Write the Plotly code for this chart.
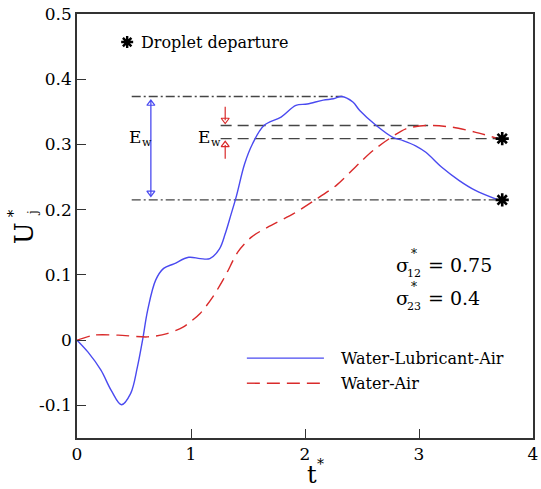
import plotly.graph_objects as go

# Jet-tip velocity histories (t*, U_j*)
t_wla = [0.0, 0.095, 0.21, 0.30, 0.39, 0.47, 0.53, 0.575, 0.62, 0.69, 0.76, 0.85, 0.98,
         1.08, 1.165, 1.25, 1.30, 1.35, 1.40, 1.47, 1.54, 1.64, 1.79, 1.92, 2.02, 2.16, 2.25,
         2.32, 2.42, 2.48, 2.625, 2.77, 2.86, 2.97, 3.06, 3.20, 3.35, 3.49, 3.695]
u_wla = [0.0, -0.018, -0.046, -0.077, -0.099, -0.082, -0.041, 0.0, 0.046, 0.092, 0.110, 0.117, 0.127,
         0.125, 0.125, 0.140, 0.163, 0.192, 0.222, 0.270, 0.301, 0.329, 0.342, 0.360, 0.362, 0.368, 0.370,
         0.3735, 0.365, 0.352, 0.329, 0.311, 0.306, 0.298, 0.288, 0.265, 0.245, 0.230, 0.215]

t_wa = [0.0, 0.15, 0.36, 0.62, 0.79, 0.93, 1.08, 1.19, 1.28, 1.32, 1.41, 1.53, 1.67, 1.90,
        2.08, 2.28, 2.48, 2.60, 2.74, 2.885, 3.06, 3.29, 3.49, 3.695]
u_wa = [0.0, 0.0077, 0.0077, 0.005, 0.010, 0.020, 0.041, 0.066, 0.092, 0.105, 0.135, 0.158, 0.173, 0.194,
        0.214, 0.238, 0.272, 0.291, 0.309, 0.324, 0.329, 0.3265, 0.319, 0.309]

# Droplet departure points
dep_t = [3.73, 3.73]
dep_u = [0.309, 0.215]

# Reference levels: (max, departure) for each case
lvl_wla = [0.3735, 0.215]
lvl_wa = [0.329, 0.309]

x_ticks = [0, 1, 2, 3, 4]
y_ticks = [-0.1, 0, 0.1, 0.2, 0.3, 0.4, 0.5]
y_ticklabels = ["-0.1", "0", "0.1", "0.2", "0.3", "0.4", "0.5"]

FONT = "DejaVu Serif"
BLUE = "#4a4af0"
RED = "#d92a2a"
GREY = "#454545"

fig = go.Figure()

# Ew reference lines
fig.add_trace(go.Scatter(x=[0.48, 2.33], y=[lvl_wla[0]] * 2, mode="lines",
                         line=dict(color=GREY, width=1.4, dash="9px,3px,2px,3px"), hoverinfo="skip"))
fig.add_trace(go.Scatter(x=[0.48, 3.69], y=[lvl_wla[1]] * 2, mode="lines",
                         line=dict(color=GREY, width=1.4, dash="9px,3px,2px,3px"), hoverinfo="skip"))
fig.add_trace(go.Scatter(x=[1.26, 3.08], y=[lvl_wa[0]] * 2, mode="lines",
                         line=dict(color=GREY, width=1.4, dash="11px,6px"), hoverinfo="skip"))
fig.add_trace(go.Scatter(x=[1.26, 3.69], y=[lvl_wa[1]] * 2, mode="lines",
                         line=dict(color=GREY, width=1.4, dash="11px,6px"), hoverinfo="skip"))

# Curves
fig.add_trace(go.Scatter(x=t_wla, y=u_wla, mode="lines", name="Water-Lubricant-Air",
                         line=dict(color=BLUE, width=1.4, shape="spline", smoothing=1.0)))
fig.add_trace(go.Scatter(x=t_wa, y=u_wa, mode="lines", name="Water-Air",
                         line=dict(color=RED, width=1.4, dash="13px,7px", shape="spline", smoothing=0.8)))

# Departure markers
fig.add_trace(go.Scatter(x=dep_t, y=dep_u, mode="markers",
                         marker=dict(symbol="asterisk-open", size=11, color="black",
                                     line=dict(color="black", width=2.6)), hoverinfo="skip"))

# Ew arrows (blue: Water-Lubricant-Air, red: Water-Air)
px_u = 1.0 / 653.3
a_t = 0.648
fig.add_trace(go.Scatter(x=[a_t, a_t], y=[lvl_wla[0] - 4 * px_u, lvl_wla[1] + 4 * px_u], mode="lines",
                         line=dict(color=BLUE, width=1.3), hoverinfo="skip"))
fig.add_trace(go.Scatter(x=[a_t, a_t], y=[lvl_wla[0] - 7 * px_u, lvl_wla[1] + 7 * px_u], mode="markers",
                         marker=dict(symbol=["triangle-up-open", "triangle-down-open"], size=7,
                                     color=BLUE, line=dict(width=1.2)), hoverinfo="skip"))
r_t = 1.30
fig.add_trace(go.Scatter(x=[r_t, r_t, None, r_t, r_t],
                         y=[lvl_wa[0] + 0.029, lvl_wa[0] + 0.008, None, lvl_wa[1] - 0.031, lvl_wa[1] - 0.010],
                         mode="lines", line=dict(color=RED, width=1.2), hoverinfo="skip"))
fig.add_trace(go.Scatter(x=[r_t, r_t], y=[lvl_wa[0] + 0.0085, lvl_wa[1] - 0.0095], mode="markers",
                         marker=dict(symbol=["triangle-down-open", "triangle-up-open"], size=7,
                                     color=RED, line=dict(width=1.2)), hoverinfo="skip"))

# Departure note marker
fig.add_trace(go.Scatter(x=[0.44], y=[0.457], mode="markers",
                         marker=dict(symbol="asterisk-open", size=10, color="black",
                                     line=dict(color="black", width=2.4)), hoverinfo="skip"))

# Legend drawn by hand so the sample lines are long
leg = [(-0.0276, "Water-Lubricant-Air", BLUE, "solid"), (-0.066, "Water-Air", RED, "13px,7px")]
for yv, name, col, dash in leg:
    fig.add_trace(go.Scatter(x=[1.49, 2.166], y=[yv, yv], mode="lines",
                             line=dict(color=col, width=1.4, dash=dash), hoverinfo="skip"))


def txt(x, y, s, size, xanchor="left", yanchor="middle", xref="x", yref="y", angle=0, xs=0, ys=0):
    fig.add_annotation(x=x, y=y, xref=xref, yref=yref, text=s, showarrow=False, xanchor=xanchor,
                       yanchor=yanchor, textangle=angle, xshift=xs, yshift=ys,
                       font=dict(family=FONT, size=size, color="black"))


def pxp(px, py):
    # pixel position -> paper coordinates
    return (px - 77.3) / 461.2, (438.3 - py) / 424.3


# E_w labels
for xe in (0.44, 1.045):
    txt(xe, 0.311, "E", 17)
    txt(xe, 0.311, "w", 11, xs=13, ys=-5)

txt(0.54, 0.457, "Droplet departure", 16)

# Surface-tension ratios
for yv, sub, val in [(0.115, "12", "= 0.75"), (0.064, "23", "= 0.4")]:
    txt(2.78, yv, "σ", 19)
    txt(2.78, yv, sub, 11, xs=11, ys=-8)
    txt(2.78, yv, "*", 12, xs=15, ys=11)
    txt(3.06, yv, val, 19)

for yv, name, col, dash in leg:
    txt(2.296, yv, name, 16)

# Axis titles
ux, uy = pxp(24, 233)
txt(ux, uy, "U", 26, xanchor="center", xref="paper", yref="paper", angle=-90)
jx, jy = pxp(33, 213)
txt(jx, jy, "j", 12, xanchor="center", xref="paper", yref="paper", angle=-90)
sx, sy = pxp(12, 213)
txt(sx, sy, "*", 15, xanchor="center", xref="paper", yref="paper", angle=-90)
tx, ty = pxp(315, 475)
txt(tx, ty, "t", 24, xanchor="center", xref="paper", yref="paper")
sx, sy = pxp(324, 464)
txt(sx, sy, "*", 14, xanchor="center", xref="paper", yref="paper")

fig.update_layout(
    width=541, height=489,
    margin=dict(l=77, r=3, t=14, b=51),
    paper_bgcolor="white", plot_bgcolor="white",
    showlegend=False,
)
fig.update_xaxes(range=[0, 4], tickvals=x_ticks, ticks="inside", ticklen=9, tickwidth=1.3,
                 tickcolor="#333", showline=True, linecolor="#333", linewidth=1.5, mirror=True,
                 showgrid=False, zeroline=False,
                 tickfont=dict(family=FONT, size=17, color="black"),
                 ticklabeloverflow="allow")
fig.update_yaxes(range=[-0.15, 0.5], tickvals=y_ticks, ticktext=y_ticklabels, ticks="inside",
                 ticklen=9, tickwidth=1.3, tickcolor="#333", showline=True, linecolor="#333",
                 linewidth=1.5, mirror=True, showgrid=False, zeroline=False,
                 tickfont=dict(family=FONT, size=17, color="black"))

fig.write_html("out.html")
